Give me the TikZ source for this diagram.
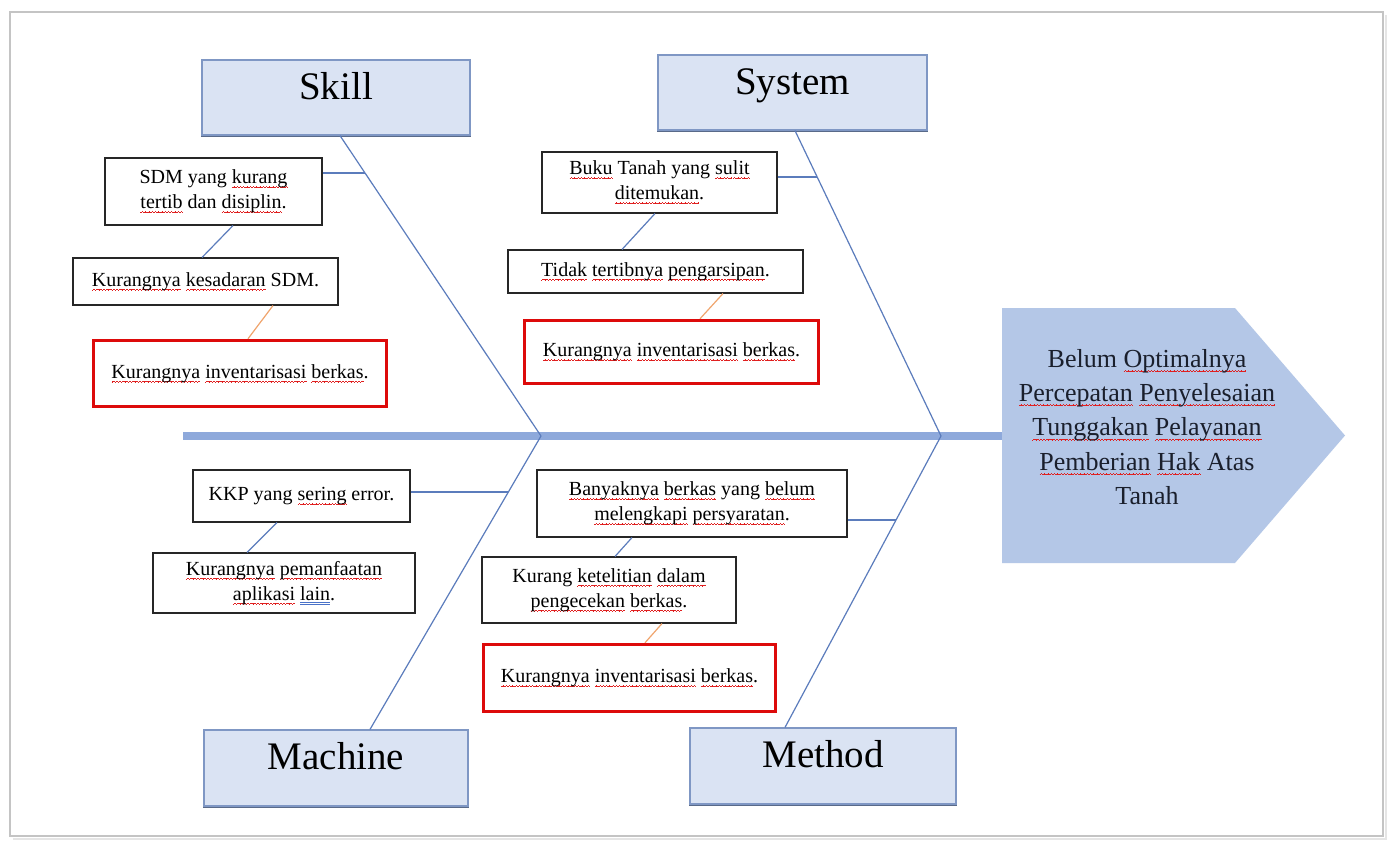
\documentclass[tikz,border=0pt]{standalone}
\usepackage{fontspec}
\setmainfont{Liberation Serif}
\usetikzlibrary{calc}
\definecolor{catfill}{HTML}{DAE3F3}
\definecolor{catline}{HTML}{7F97C4}
\definecolor{bonecol}{HTML}{5B7CBC}
\definecolor{spinecol}{HTML}{8EA9DB}
\definecolor{headcol}{HTML}{B4C7E7}
\definecolor{orangecol}{HTML}{F0A56E}
\definecolor{redcol}{HTML}{DD0A0A}
\definecolor{framecol}{HTML}{C4C4C4}
\definecolor{waveRed}{HTML}{E02020}
\definecolor{gramBlue}{HTML}{4A72C8}
\definecolor{headtext}{HTML}{1A1F2C}
\newcommand\wavebit{\hbox{\rule[0pt]{0.8pt}{0.7pt}\rule[0.5pt]{0.8pt}{0.7pt}\rule[1pt]{0.8pt}{0.7pt}\rule[0.5pt]{0.8pt}{0.7pt}}}
\newcommand\sq[1]{\leavevmode\setbox0=\hbox{#1}\rlap{\raisebox{-4.5pt}{\hbox to\wd0{\color{waveRed}\xleaders\wavebit\hfill}}}\box0\relax}
\newcommand\gq[1]{\leavevmode\setbox0=\hbox{#1}\rlap{\textcolor{gramBlue}{\rlap{\rule[-3pt]{\wd0}{0.7pt}}\rule[-5pt]{\wd0}{0.7pt}}}\box0\relax}
\tikzset{
  cat/.style={draw=catline, line width=1.2pt, fill=catfill, font=\fontsize{39}{44}\selectfont, text height=0.7em, text depth=0.4em, inner sep=0pt},
  cause/.style={draw=black!85, line width=1.1pt, fill=white, font=\fontsize{20}{25}\selectfont, align=center, inner sep=0pt},
  keycause/.style={cause, draw=redcol, line width=3.5pt},
  bone/.style={draw=bonecol, line width=1.2pt},
  orlink/.style={draw=orangecol, line width=1.2pt},
  spine/.style={draw=spinecol, line width=8pt},
  headtxt/.style={font=\fontsize{26}{34.3}\selectfont, align=center, text=headtext, inner sep=0pt},
  catshadow/.style={draw=catline!70!black, line width=1.5pt},
}
\begin{document}
\begin{tikzpicture}[x=1pt,y=-1pt]
\useasboundingbox (0,0) rectangle (1392,841);
\fill[white] (0,0) rectangle (1392,841);
% frame
\draw[black!10, line width=2.5pt] (13,839) -- (1386,839) -- (1386,15);
\draw[framecol, line width=1.5pt] (10,12) rectangle (1383,836);

% spine and head
\coordinate (tail) at (183,436);
\coordinate (headw) at (1004,436);
\draw[spine] (tail) -- (headw);
\fill[headcol] (1002,308) -- (1235,308) -- (1345,435.5) -- (1235,563) -- (1002,563) -- cycle;
\node[headtxt] (head) at (1147,427) {Belum \sq{Optimalnya}\\\sq{Percepatan} \sq{Penyelesaian}\\\sq{Tunggakan} \sq{Pelayanan}\\\sq{Pemberian} \sq{Hak} Atas\\Tanah};

% category boxes
\node[cat, minimum width=268pt, minimum height=75pt] (skill) at (336,97.5) {Skill};
\node[cat, minimum width=269pt, minimum height=75pt] (system) at (792.5,92.5) {System};
\node[cat, minimum width=264pt, minimum height=76pt] (machine) at (336,768) {Machine};
\node[cat, minimum width=266pt, minimum height=76pt] (method) at (823,766) {Method};
\foreach \n in {skill,system,machine,method}{
  \draw[catshadow] ([yshift=-0.8pt]\n.south west) -- ([yshift=-0.8pt]\n.south east);
}

% junctions
\coordinate (j1) at (541,436);
\coordinate (j2) at (941,436);
\draw[bone] ($(skill.south)+(4,0)$) -- (j1);
\draw[bone] ($(system.south)+(2.5,0)$) -- (j2);
\draw[bone] ($(machine.north)+(34,0)$) -- (j1);
\draw[bone] ($(method.north)+(-38,0)$) -- (j2);

% skill causes
\node[cause, minimum width=217pt, minimum height=67pt] (sdm) at (213.5,191.5) {SDM yang \sq{kurang}\\\sq{tertib} dan \sq{disiplin}.};
\node[cause, minimum width=265pt, minimum height=47pt] (kes) at (205.5,281.5) {\sq{Kurangnya} \sq{kesadaran} SDM.};
\node[keycause, minimum width=293pt, minimum height=66pt] (red1) at (240,373.5) {\sq{Kurangnya} \sq{inventarisasi} \sq{berkas}.};
\coordinate (s1) at (365,173);
\draw[bone] (sdm.east |- s1) -- (s1);
\draw[bone] ($(sdm.south)+(19.5,0)$) -- ($(kes.north)+(-3.5,0)$);
\draw[orlink] ($(kes.south)+(67.5,0)$) -- ($(red1.north)+(8,0)$);

% system causes
\node[cause, minimum width=235pt, minimum height=61pt] (buku) at (659.5,182.5) {\sq{Buku} Tanah yang \sq{sulit}\\\sq{ditemukan}.};
\node[cause, minimum width=295pt, minimum height=43pt] (tidak) at (655.5,271.5) {\sq{Tidak} \sq{tertibnya} \sq{pengarsipan}.};
\node[keycause, minimum width=294pt, minimum height=63pt] (red2) at (671.5,352) {\sq{Kurangnya} \sq{inventarisasi} \sq{berkas}.};
\coordinate (s2) at (817,177);
\draw[bone] (buku.east |- s2) -- (s2);
\draw[bone] ($(buku.south)+(-4.5,0)$) -- ($(tidak.north)+(-33.5,0)$);
\draw[orlink] ($(tidak.south)+(67.5,0)$) -- ($(red2.north)+(28.5,0)$);

% machine causes
\node[cause, minimum width=217pt, minimum height=52pt] (kkp) at (301.5,496) {KKP yang \sq{sering} error.};
\node[cause, minimum width=262pt, minimum height=60pt] (pem) at (284,583) {\sq{Kurangnya} \sq{pemanfaatan}\\\sq{aplikasi} \gq{lain}.};
\coordinate (m1) at (508,492);
\draw[bone] (kkp.east |- m1) -- (m1);
\draw[bone] ($(kkp.south)+(-24.5,0)$) -- ($(pem.north)+(-37,0)$);

% method causes
\node[cause, minimum width=310pt, minimum height=67pt] (bany) at (692,503.5) {\sq{Banyaknya} \sq{berkas} yang \sq{belum}\\\sq{melengkapi} \sq{persyaratan}.};
\node[cause, minimum width=254pt, minimum height=66pt] (ket) at (609,590) {Kurang \sq{ketelitian} \sq{dalam}\\\sq{pengecekan} \sq{berkas}.};
\node[keycause, minimum width=292pt, minimum height=67pt] (red3) at (629.5,678) {\sq{Kurangnya} \sq{inventarisasi} \sq{berkas}.};
\coordinate (m2) at (896,520);
\draw[bone] (bany.east |- m2) -- (m2);
\draw[bone] ($(bany.south)+(-60,0)$) -- ($(ket.north)+(6,0)$);
\draw[orlink] ($(ket.south)+(53,0)$) -- ($(red3.north)+(15.5,0)$);
\end{tikzpicture}
\end{document}
